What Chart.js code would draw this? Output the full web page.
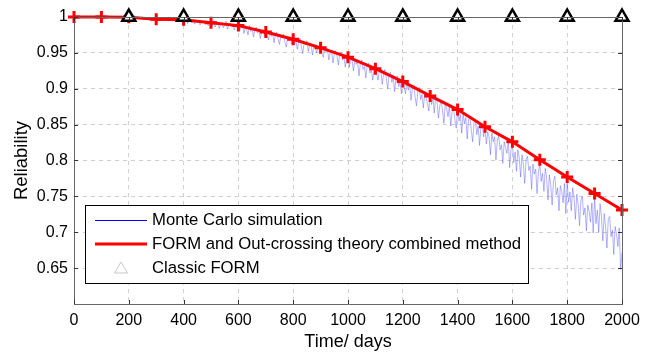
<!DOCTYPE html>
<html>
<head>
<meta charset="utf-8">
<script src="https://cdn.jsdelivr.net/npm/chart.js@4"></script>
<style>
  html, body { margin: 0; padding: 0; background: #fff; }
  #wrap { width: 654px; height: 354px; }
</style>
</head>
<body>
<div id="wrap"><canvas id="chart" width="654" height="354"></canvas></div>
<script>
// Monte Carlo simulation
const mcDays = [
  0,50,100,150,200,250,
  300,305,310,315,320,325,330,335,340,345,350,355,360,365,370,375,380,385,390,395,
  400,405,410,415,420,425,430,435,440,445,450,455,460,465,470,475,480,485,490,495,
  500,505,510,515,520,525,530,535,540,545,550,555,560,565,570,575,580,585,590,595,
  600,605,610,615,620,625,630,635,640,645,650,655,660,665,670,675,680,685,690,695,
  700,705,710,715,720,725,730,735,740,745,750,755,760,765,770,775,780,785,790,795,
  800,805,810,815,820,825,830,835,840,845,850,855,860,865,870,875,880,885,890,895,
  900,905,910,915,920,925,930,935,940,945,950,955,960,965,970,975,980,985,990,995,
  1000,1005,1010,1015,1020,1025,1030,1035,1040,1045,1050,1055,1060,1065,1070,1075,1080,1085,1090,1095,
  1100,1105,1110,1115,1120,1125,1130,1135,1140,1145,1150,1155,1160,1165,1170,1175,1180,1185,1190,1195,
  1200,1205,1210,1215,1220,1225,1230,1235,1240,1245,1250,1255,1260,1265,1270,1275,1280,1285,1290,1295,
  1300,1305,1310,1315,1320,1325,1330,1335,1340,1345,1350,1355,1360,1365,1370,1375,1380,1385,1390,1395,
  1400,1405,1410,1415,1420,1425,1430,1435,1440,1445,1450,1455,1460,1465,1470,1475,1480,1485,1490,1495,
  1500,1505,1510,1515,1520,1525,1530,1535,1540,1545,1550,1555,1560,1565,1570,1575,1580,1585,1590,1595,
  1600,1605,1610,1615,1620,1625,1630,1635,1640,1645,1650,1655,1660,1665,1670,1675,1680,1685,1690,1695,
  1700,1705,1710,1715,1720,1725,1730,1735,1740,1745,1750,1755,1760,1765,1770,1775,1780,1785,1790,1795,
  1800,1805,1810,1815,1820,1825,1830,1835,1840,1845,1850,1855,1860,1865,1870,1875,1880,1885,1890,1895,
  1900,1905,1910,1915,1920,1925,1930,1935,1940,1945,1950,1955,1960,1965,1970,1975,1980,1985,1990,1995,
  2000
];
const mcReliability = [
  1, 1, 1, 0.9995, 0.999, 0.9985,
  .999,.997,.998,.996,.999,.997,.995,.998,.997,.999,.996,.998,.995,.997,.998,.994,.997,.996,.998,.995,
  .997,.993,.996,.991,.995,.997,.992,.994,.990,.996,.993,.995,.989,.994,.992,.995,.990,.993,.988,.992,
  .994,.988,.995,.986,.991,.993,.984,.990,.992,.985,.989,.994,.983,.988,.991,.986,.990,.982,.987,.985,
  .990,.981,.986,.989,.977,.985,.983,.975,.988,.980,.984,.972,.982,.986,.978,.981,.970,.979,.983,.974,
  .982,.975,.968,.980,.973,.977,.964,.975,.979,.969,.962,.974,.971,.976,.965,.958,.972,.968,.970,.962,
  .973,.962,.968,.955,.966,.970,.958,.949,.965,.961,.967,.952,.960,.963,.947,.958,.962,.950,.955,.959,
  .961,.949,.944,.958,.952,.956,.940,.950,.954,.936,.948,.953,.945,.933,.949,.951,.940,.946,.930,.943,
  .948,.930,.944,.939,.925,.942,.934,.938,.918,.935,.940,.927,.931,.915,.933,.936,.922,.928,.912,.926,
  .933,.920,.912,.929,.924,.906,.922,.927,.914,.900,.920,.923,.909,.916,.896,.914,.918,.903,.910,.893,
  .916,.902,.893,.911,.898,.906,.884,.900,.905,.888,.876,.897,.902,.885,.892,.873,.893,.887,.880,.869,
  .894,.878,.887,.866,.889,.882,.859,.876,.884,.869,.852,.879,.873,.861,.876,.848,.868,.872,.857,.845,
  .872,.855,.864,.838,.866,.851,.860,.830,.857,.862,.842,.826,.853,.857,.836,.848,.821,.846,.850,.833,
  .846,.823,.840,.832,.808,.838,.826,.833,.801,.829,.834,.815,.822,.796,.826,.818,.810,.828,.790,.815,
  .822,.797,.812,.785,.815,.804,.777,.808,.795,.768,.801,.806,.786,.792,.760,.795,.781,.788,.754,.784,
  .796,.771,.782,.757,.789,.775,.745,.780,.766,.738,.772,.778,.752,.762,.730,.765,.757,.741,.768,.726,
  .770,.742,.756,.730,.762,.748,.718,.753,.739,.709,.745,.750,.724,.734,.702,.738,.729,.714,.741,.699,
  .748,.712,.731,.700,.740,.722,.688,.726,.709,.678,.719,.722,.694,.703,.669,.708,.697,.680,.706,.648,
  .672
];

// FORM and Out-crossing theory combined method
const formDays = [0,100,200,300,400,500,600,700,800,900,1000,1100,1200,1300,1400,1500,1600,1700,1800,1900,2000];
const formReliability = [1.0,1.0,0.9995,0.997,0.996,0.992,0.988,0.979,0.969,0.957,0.944,0.928,0.910,0.890,0.871,0.847,0.826,0.801,0.777,0.754,0.731];

// Classic FORM
const classicDays = [200,400,600,800,1000,1200,1400,1600,1800,2000];
const classicReliability = [1,1,1,1,1,1,1,1,1,1];

const xTicks = [0,200,400,600,800,1000,1200,1400,1600,1800,2000];
const yTicks = [0.65,0.7,0.75,0.8,0.85,0.9,0.95,1];

const FONT = "'Liberation Sans', Arial, Helvetica, sans-serif";
const toPoints = (xs, ys) => xs.map((x, i) => ({ x: x, y: ys[i] }));

// box, inward ticks and in-plot legend
const frame = {
  id: "frame",
  afterDraw(chart) {
    const { ctx, chartArea: a, scales } = chart;
    ctx.save();
    ctx.strokeStyle = "#666";
    ctx.lineWidth = 1;
    ctx.beginPath();
    ctx.moveTo(a.left, a.top + 0.5);
    ctx.lineTo(a.right + 0.5, a.top + 0.5);
    ctx.lineTo(a.right + 0.5, a.bottom);
    ctx.stroke();

    ctx.strokeStyle = "#333";
    ctx.beginPath();
    xTicks.forEach(v => {
      const px = Math.round(scales.x.getPixelForValue(v)) + 0.5;
      ctx.moveTo(px, a.bottom); ctx.lineTo(px, a.bottom - 4);
      ctx.moveTo(px, a.top); ctx.lineTo(px, a.top + 4);
    });
    yTicks.forEach(v => {
      const py = Math.round(scales.y.getPixelForValue(v)) + 0.5;
      ctx.moveTo(a.left, py); ctx.lineTo(a.left + 4, py);
      ctx.moveTo(a.right, py); ctx.lineTo(a.right - 4, py);
    });
    ctx.stroke();

    // legend
    const bx = 85.5, by = 205.5, bw = 443, bh = 78;
    ctx.fillStyle = "#fff";
    ctx.fillRect(bx, by, bw, bh);
    ctx.strokeStyle = "#000";
    ctx.lineWidth = 1;
    ctx.strokeRect(bx, by, bw, bh);

    const rows = [220, 244, 268];
    ctx.strokeStyle = "#0000ff";
    ctx.lineWidth = 1;
    ctx.beginPath(); ctx.moveTo(95, rows[0] + 0.5); ctx.lineTo(147, rows[0] + 0.5); ctx.stroke();
    ctx.strokeStyle = "#ff0000";
    ctx.lineWidth = 3;
    ctx.beginPath(); ctx.moveTo(95, rows[1]); ctx.lineTo(147, rows[1]); ctx.stroke();
    ctx.strokeStyle = "#c8c8c8";
    ctx.lineWidth = 1;
    ctx.beginPath();
    ctx.moveTo(121, rows[2] - 6); ctx.lineTo(127.5, rows[2] + 5); ctx.lineTo(114.5, rows[2] + 5); ctx.closePath();
    ctx.stroke();

    ctx.fillStyle = "#000";
    ctx.font = "16.7px " + FONT;
    ctx.textBaseline = "middle";
    ctx.textAlign = "left";
    chart.data.datasets.forEach((ds, i) => ctx.fillText(ds.label, 152, rows[i]));
    ctx.restore();
  }
};

new Chart(document.getElementById("chart"), {
  type: "line",
  data: {
    datasets: [
      {
        label: "Monte Carlo simulation",
        data: toPoints(mcDays, mcReliability),
        borderColor: "rgba(80,80,255,0.55)",
        borderWidth: 0.8,
        pointRadius: 0,
        order: 3
      },
      {
        label: "FORM and Out-crossing theory combined method",
        data: toPoints(formDays, formReliability),
        borderColor: "#ff0000",
        backgroundColor: "#ff0000",
        borderWidth: 3,
        pointStyle: "cross",
        pointRadius: 6,
        pointBorderWidth: 3,
        order: 2
      },
      {
        label: "Classic FORM",
        data: toPoints(classicDays, classicReliability),
        showLine: false,
        pointStyle: "triangle",
        pointRadius: 7.5,
        pointBorderWidth: 2.5,
        pointBorderColor: "#000",
        pointBackgroundColor: "#fff",
        order: 1
      }
    ]
  },
  options: {
    responsive: false,
    animation: false,
    clip: false,
    layout: { padding: { top: 17, right: 32, left: 0, bottom: 0 } },
    plugins: { legend: { display: false }, tooltip: { enabled: false } },
    scales: {
      x: {
        type: "linear",
        min: 0, max: 2000,
        afterFit: s => { s.height = 50; },
        afterBuildTicks: s => { s.ticks = xTicks.map(v => ({ value: v })); },
        grid: { color: "#d0d0d0", drawTicks: false },
        border: { color: "#666", dash: [4, 4] },
        ticks: { color: "#000", padding: 7, font: { family: FONT, size: 16 }, maxRotation: 0, callback: v => String(v) },
        title: { display: true, text: "Time/ days", color: "#000", font: { family: FONT, size: 18 }, padding: { top: 0, bottom: 1 } }
      },
      y: {
        min: 0.6, max: 1,
        afterFit: s => { s.width = 74; },
        afterBuildTicks: s => { s.ticks = yTicks.map(v => ({ value: v })); },
        grid: { color: "#d0d0d0", drawTicks: false },
        border: { color: "#666", dash: [4, 4] },
        ticks: {
          color: "#000", padding: 6, font: { family: FONT, size: 16 },
          callback: v => String(Math.round(v * 100) / 100)
        },
        title: { display: true, text: "Reliability", color: "#000", font: { family: FONT, size: 18.5 }, padding: { top: 11, bottom: 0 } }
      }
    }
  },
  plugins: [frame]
});
</script>
</body>
</html>
